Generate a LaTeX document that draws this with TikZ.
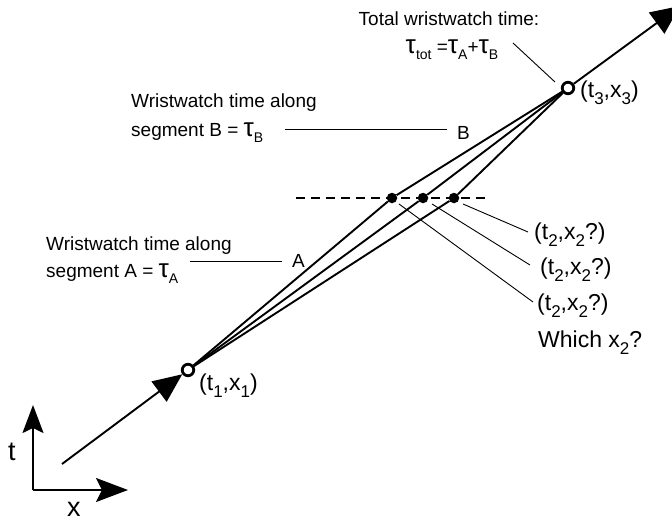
\documentclass[tikz,border=0pt]{standalone}
\usepackage{fontspec}
\setmainfont{Liberation Sans}
\usetikzlibrary{arrows.meta}
\newcommand{\lsub}[1]{\raisebox{-0.36em}{\fontsize{14}{14}\selectfont #1}}
\newcommand{\bsub}[1]{\raisebox{-0.32em}{\fontsize{17}{17}\selectfont #1}}
\newcommand{\tauch}{{\fontsize{26}{26}\selectfont τ}}
\begin{document}
\begin{tikzpicture}[x=1pt,y=-1pt,
  world/.style={line width=1.9pt},
  ptr/.style={line width=0.9pt},
  desc/.style={font=\fontsize{19}{29}\selectfont, inner sep=0pt, anchor=base west},
  coordlbl/.style={font=\fontsize{23}{26}\selectfont, inner sep=0pt, anchor=base west},
  axislbl/.style={font=\fontsize{27}{27}\selectfont, inner sep=0pt, anchor=base west},
  opendot/.style={circle, draw, line width=2.8pt, fill=white, minimum size=11.5pt, inner sep=0pt},
  fulldot/.style={circle, fill, minimum size=10.5pt, inner sep=0pt},
  axis/.style={line width=1.9pt}]
\useasboundingbox (0,0) rectangle (672,522);
% worldline coordinates
\coordinate (s) at (62,464);
\coordinate (e) at (680,6);
\coordinate (dl) at (296,198);
\coordinate (dr) at (485,198);
\draw[line width=1.4pt, dash pattern=on 9pt off 6pt] (dl) -- (dr);
\node[opendot] (p1) at (188,370) {};
\node[opendot] (p3) at (568,88) {};
\node[fulldot] (d1) at (392,198) {};
\node[fulldot] (d2) at (423,198) {};
\node[fulldot] (d3) at (454,198) {};
\draw[world, -{Triangle[length=29pt,width=25pt]}] (s) -- (p1);
\draw[world, -{Triangle[length=29pt,width=26pt]}] (p3) -- (e);
\draw[world] (p1) -- (d1) -- (p3);
\draw[world] (p1) -- (d2) -- (p3);
\draw[world] (p1) -- (d3) -- (p3);
% labels of events
\node[coordlbl] (l1) at (199,390) {(t\bsub{1},x\bsub{1})};
\node[coordlbl] (l3) at (580,97) {(t\bsub{3},x\bsub{3})};
\node[coordlbl] (q1) at (534,239) {(t\bsub{2},x\bsub{2}?)};
\node[coordlbl] (q2) at (540,274) {(t\bsub{2},x\bsub{2}?)};
\node[coordlbl] (q3) at (537,310) {(t\bsub{2},x\bsub{2}?)};
\node[coordlbl] (wh) at (538,347) {Which x\bsub{2}?};
% pointers to dots
\coordinate (a1) at (463,204);
\coordinate (a2) at (432,204);
\coordinate (a3) at (399,204);
\coordinate (b1) at (528,232);
\coordinate (b2) at (530,265);
\coordinate (b3) at (533,302);
\draw[ptr] (a1) -- (b1);
\draw[ptr] (a2) -- (b2);
\draw[ptr] (a3) -- (b3);
% total time
\node[font=\fontsize{19}{29}\selectfont, inner sep=0pt, anchor=base] (tt1) at (449,25) {Total wristwatch time:};
\node[font=\fontsize{19}{29}\selectfont, inner sep=0pt, anchor=base] (tt2) at (452,53) {\tauch\lsub{tot} =\tauch\lsub{A}+\tauch\lsub{B}};
\coordinate (c1) at (513,43);
\coordinate (c2) at (555,82);
\draw[ptr] (c1) -- (c2);
% segment B
\node[desc] (sb1) at (131,107) {Wristwatch time along};
\node[desc] (sb2) at (131,136) {segment B = \tauch\lsub{B}};
\node[desc] (bl) at (457,139) {B};
\coordinate (bs) at (285,129);
\coordinate (be) at (447,129);
\draw[ptr] (bs) -- (be);
% segment A
\node[desc] (sa1) at (46,250) {Wristwatch time along};
\node[desc] (sa2) at (46,277) {segment A = \tauch\lsub{A}};
\node[desc] (al) at (292,267) {A};
\coordinate (as) at (190,261);
\coordinate (ae) at (282,261);
\draw[ptr] (as) -- (ae);
% axes
\coordinate (o) at (33,490);
\coordinate (ty) at (33,405);
\coordinate (tx) at (128,490);
\draw[axis, -{Stealth[length=28pt,width=21pt,inset=5pt]}] (o) -- (ty);
\draw[axis, -{Stealth[length=32pt,width=24pt,inset=6pt]}] (o) -- (tx);
\node[axislbl] (tlab) at (8,460) {t};
\node[axislbl] (xlab) at (67,516) {x};
\end{tikzpicture}
\end{document}
